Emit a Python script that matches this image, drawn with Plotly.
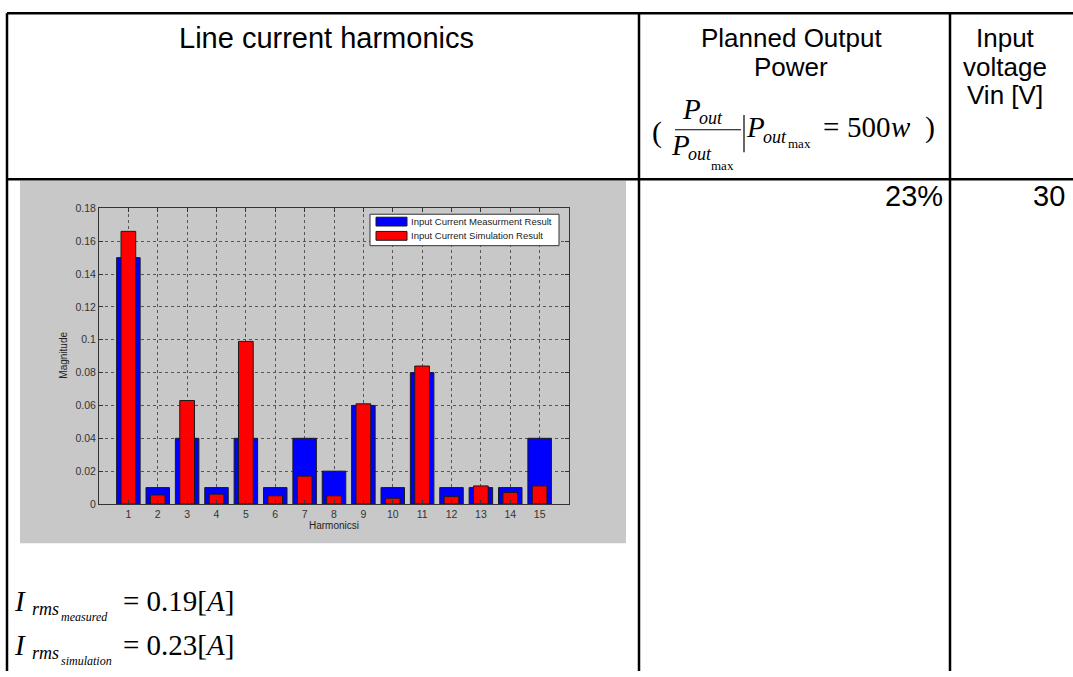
import plotly.graph_objects as go

# ---- data ----
harmonics = list(range(1, 16))
measured = [0.15, 0.01, 0.04, 0.01, 0.04, 0.01, 0.04, 0.02, 0.06, 0.01,
            0.08, 0.01, 0.01, 0.01, 0.04]
simulated = [0.166, 0.0055, 0.063, 0.006, 0.099, 0.005, 0.017, 0.005, 0.061,
             0.0035, 0.084, 0.0045, 0.011, 0.007, 0.011]
series_names = ["Input Current Measurment Result", "Input Current Simulation Result"]
y_ticks = [0, 0.02, 0.04, 0.06, 0.08, 0.1, 0.12, 0.14, 0.16, 0.18]
y_tick_labels = ["0", "0.02", "0.04", "0.06", "0.08", "0.1", "0.12", "0.14", "0.16", "0.18"]
power_pct = "23%"
vin = "30"
irms_measured = "0.19"
irms_simulation = "0.23"

W, H = 1073, 677
SANS = "Liberation Sans, Arial, sans-serif"
SERIF = "Liberation Serif, Times New Roman, serif"


def px(x):
    return x / W


def py(y):
    return 1 - y / H


fig = go.Figure()
fig.add_trace(go.Bar(x=harmonics, y=measured, name=series_names[0], width=0.8,
                     marker=dict(color="#0000ff", line=dict(color="#1a1a1a", width=1)),
                     showlegend=False))
fig.add_trace(go.Bar(x=harmonics, y=simulated, name=series_names[1], width=0.5,
                     marker=dict(color="#ff0000", line=dict(color="#1a1a1a", width=1)),
                     showlegend=False))

shapes = []
annotations = []

# grey figure panel behind the axes
shapes.append(dict(type="rect", xref="paper", yref="paper", layer="below",
                   x0=px(20), x1=px(626), y0=py(547), y1=py(178),
                   fillcolor="#c8c8c8", line=dict(width=0)))

# legend box
shapes.append(dict(type="rect", xref="paper", yref="paper", layer="above",
                   x0=px(370), x1=px(559), y0=py(244), y1=py(212),
                   fillcolor="white", line=dict(color="#333333", width=1)))
legend_colors = ["#0000ff", "#ff0000"]
for i, (nm, col) in enumerate(zip(series_names, legend_colors)):
    yc = 219.5 + i * 14.5
    shapes.append(dict(type="rect", xref="paper", yref="paper", layer="above",
                       x0=px(376), x1=px(407), y0=py(yc + 4.5), y1=py(yc - 4.5),
                       fillcolor=col, line=dict(color="#1a1a1a", width=1)))
    annotations.append(dict(x=px(409), y=py(yc), xref="paper", yref="paper",
                            text=nm, showarrow=False, xanchor="left", yanchor="middle",
                            font=dict(family=SANS, size=9.5, color="#222222")))

# axis titles
annotations.append(dict(x=px(334), y=py(529), xref="paper", yref="paper", text="Harmonicsi",
                        showarrow=False, xanchor="center", yanchor="middle",
                        font=dict(family=SANS, size=10, color="#222222")))
annotations.append(dict(x=px(64), y=py(356), xref="paper", yref="paper", text="Magnitude",
                        showarrow=False, xanchor="center", yanchor="middle", textangle=-90,
                        font=dict(family=SANS, size=10, color="#222222")))

# table rules
line = dict(color="black", width=2.5)
for (x0, y0, x1, y1) in [(7, 7.5, W, 7.5), (7, 7.5, 7, H), (7, 176.5, W, 176.5),
                         (639, 7.5, 639, H), (950, 7.5, 950, H)]:
    shapes.append(dict(type="line", xref="paper", yref="paper", layer="above",
                       x0=px(x0), x1=px(x1), y0=py(y0), y1=py(y1), line=line))


def txt(x, y, s, size, family=SANS, anchor="center", italic=False):
    annotations.append(dict(x=px(x), y=py(y), xref="paper", yref="paper",
                            text=f"<i>{s}</i>" if italic else s, showarrow=False,
                            xanchor=anchor, yanchor="middle", borderpad=0,
                            font=dict(family=family, size=size, color="black")))


# header cells
txt(326, 33, "Line current harmonics", 29)
txt(791, 33, "Planned Output", 26)
txt(791, 62, "Power", 26)
txt(1005, 33, "Input", 26)
txt(1005, 62, "voltage", 26)
txt(1005, 91, "Vin [V]", 26)

# power ratio expression  (P_out / P_out_max | P_out_max = 500w)
txt(651, 128, "(", 30, SERIF, "left")
txt(681, 105, "P", 29, SERIF, "left", True)
txt(698, 114, "out", 18, SERIF, "left", True)
shapes.append(dict(type="line", xref="paper", yref="paper", layer="above",
                   x0=px(675), x1=px(741), y0=py(126), y1=py(126),
                   line=dict(color="black", width=1.2)))
txt(670, 142, "P", 29, SERIF, "left", True)
txt(687, 151, "out", 18, SERIF, "left", True)
txt(710, 162, "max", 13, SERIF, "left")
shapes.append(dict(type="line", xref="paper", yref="paper", layer="above",
                   x0=px(744), x1=px(744), y0=py(111), y1=py(149),
                   line=dict(color="black", width=1.2)))
txt(745, 123, "P", 29, SERIF, "left", True)
txt(762, 133, "out", 18, SERIF, "left", True)
txt(787, 140, "max", 13, SERIF, "left")
txt(822, 123, "=", 29, SERIF, "left")
txt(846, 123, "500", 29, SERIF, "left")
txt(890, 123, "w", 29, SERIF, "left", True)
txt(924, 123, ")", 30, SERIF, "left")

# body cells
txt(944, 193, power_pct, 29, SANS, "right")
txt(1066, 193, vin, 29, SANS, "right")

# rms currents
for yc, sub, val in [(606, "measured", irms_measured), (651, "simulation", irms_simulation)]:
    txt(13, yc, "I", 29, SERIF, "left", True)
    txt(31, yc + 8, "rms", 18, SERIF, "left", True)
    txt(60, yc + 16, sub, 12, SERIF, "left", True)
    txt(122, yc, f"= {val}[<i>A</i>]", 29, SERIF, "left")

axis_common = dict(showline=True, linecolor="#333333", linewidth=1, mirror="ticks",
                   ticks="inside", ticklen=4, tickcolor="#333333",
                   showgrid=True, gridcolor="#555555", griddash="dot", gridwidth=1,
                   zeroline=False, tickfont=dict(family=SANS, size=10.5, color="#333333"))

fig.update_layout(
    width=W, height=H,
    margin=dict(l=0, r=0, t=0, b=0),
    paper_bgcolor="white", plot_bgcolor="white",
    barmode="overlay",
    xaxis=dict(domain=[px(99), px(569)], range=[0, 16], tickmode="array",
               tickvals=harmonics, ticktext=[str(h) for h in harmonics], **axis_common),
    yaxis=dict(domain=[py(507), py(206)], range=[0, 0.18], tickmode="array",
               tickvals=y_ticks, ticktext=y_tick_labels, **axis_common),
    shapes=shapes, annotations=annotations,
)

fig.write_html("out.html")
